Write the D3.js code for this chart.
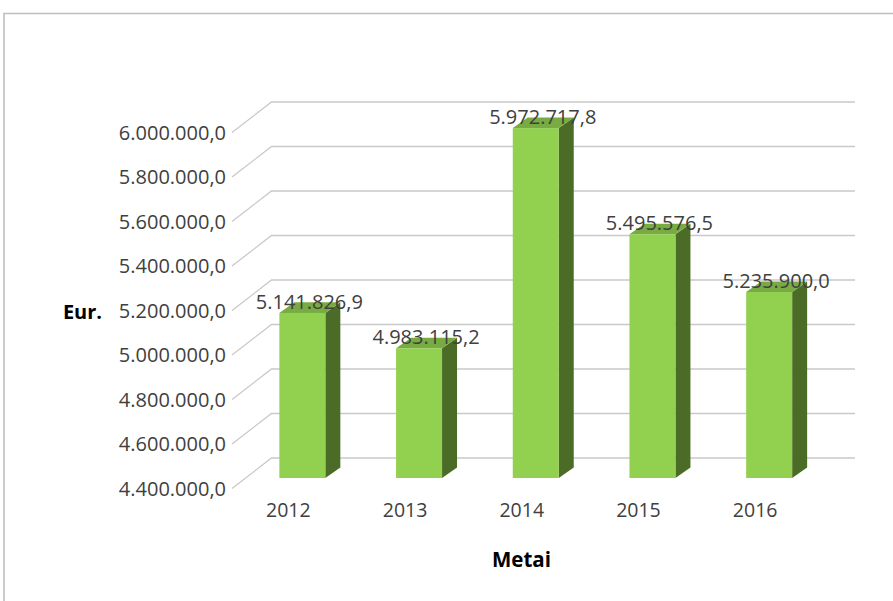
<!DOCTYPE html>
<html>
<head>
<meta charset="utf-8">
<script src="https://cdn.jsdelivr.net/npm/d3@7"></script>
<style>
  html, body { margin: 0; padding: 0; background: #ffffff; }
  svg { display: block; }
  text { font-family: "Open Sans", "Noto Sans", sans-serif; fill: #404040; }
</style>
</head>
<body>
<svg id="chart" width="893" height="601"></svg>
<script>
// Yearly totals in euros
const years = ["2012", "2013", "2014", "2015", "2016"];
const values = [5141826.9, 4983115.2, 5972717.8, 5495576.5, 5235900.0];
const yTicks = [4400000, 4600000, 4800000, 5000000, 5200000, 5400000, 5600000, 5800000, 6000000];
const yTitle = "Eur.";
const xTitle = "Metai";

const svg = d3.select("#chart");

// Lithuanian number format: dot thousands separator, comma decimal
const lt = d3.formatLocale({ decimal: ",", thousands: ".", grouping: [3], currency: ["", " €"] });
const fmt = lt.format(",.1f");

// Front edge of the floor (value scale) and category positions
const yFront = d3.scaleLinear().domain([4400000, 6000000]).range([488.5, 132.5]);
const x = d3.scaleBand().domain(years).range([232, 815.5]).paddingInner(0.606).paddingOuter(0.303);

// Oblique projection offsets
const wall = { dx: 39.5, dy: -30.5 };     // back wall
const barShift = { dx: 12, dy: -10.5 };   // bar front face relative to floor front edge
const barDepth = { dx: 15, dy: -10.6 };   // bar thickness

const numSize = 20;

// Outer frame
svg.append("path")
  .attr("d", "M4,601 L4,13.5 L893,13.5")
  .attr("fill", "none")
  .attr("stroke", "#bfbfbf")
  .attr("stroke-width", 1.6);

// Gridlines: short diagonal on the side wall, then across the back wall
svg.append("g").selectAll("path")
  .data(yTicks)
  .join("path")
  .attr("d", d => {
    const y0 = yFront(d);
    return `M232,${y0} L${232 + wall.dx},${y0 + wall.dy} L855,${y0 + wall.dy}`;
  })
  .attr("fill", "none")
  .attr("stroke", "#c9c9c9")
  .attr("stroke-width", 1.3);

// Value axis labels
svg.append("g").selectAll("text")
  .data(yTicks)
  .join("text")
  .attr("x", 226)
  .attr("y", d => yFront(d))
  .attr("dy", "0.35em")
  .attr("text-anchor", "end")
  .attr("font-size", numSize)
  .text(d => fmt(d));

// 3D bars
const base = yFront.domain()[0];
const bars = svg.append("g").selectAll("g")
  .data(years.map((k, i) => ({ year: k, value: values[i] })))
  .join("g");

function geom(d) {
  const x0 = x(d.year) + barShift.dx;
  const x1 = x0 + x.bandwidth();
  const yt = yFront(d.value) + barShift.dy;
  const yb = yFront(base) + barShift.dy;
  return { x0, x1, yt, yb };
}

// side face
bars.append("path")
  .attr("d", d => {
    const g = geom(d);
    return `M${g.x1},${g.yb} L${g.x1 + barDepth.dx},${g.yb + barDepth.dy} L${g.x1 + barDepth.dx},${g.yt + barDepth.dy} L${g.x1},${g.yt} Z`;
  })
  .attr("fill", "#4b6c27");

// top face
bars.append("path")
  .attr("d", d => {
    const g = geom(d);
    return `M${g.x0},${g.yt} L${g.x0 + barDepth.dx},${g.yt + barDepth.dy} L${g.x1 + barDepth.dx},${g.yt + barDepth.dy} L${g.x1},${g.yt} Z`;
  })
  .attr("fill", "#78ac42");

// front face
bars.append("rect")
  .attr("x", d => geom(d).x0)
  .attr("y", d => geom(d).yt)
  .attr("width", x.bandwidth())
  .attr("height", d => geom(d).yb - geom(d).yt)
  .attr("fill", "#92d050");

// Value labels above each bar
bars.append("text")
  .attr("x", d => geom(d).x0 + x.bandwidth() / 2 + 7)
  .attr("y", d => geom(d).yt - 4)
  .attr("text-anchor", "middle")
  .attr("font-size", numSize)
  .text(d => fmt(d.value));

// Category labels along the front edge
svg.append("g").selectAll("text")
  .data(years)
  .join("text")
  .attr("x", d => x(d) + x.bandwidth() / 2 - 2)
  .attr("y", yFront(base) + 21.5)
  .attr("dy", "0.35em")
  .attr("text-anchor", "middle")
  .attr("font-size", 19.5)
  .text(d => d);

// Axis titles
svg.append("text")
  .attr("x", 82.5)
  .attr("y", 312)
  .attr("dy", "0.35em")
  .attr("text-anchor", "middle")
  .attr("font-size", 20)
  .attr("font-weight", "bold")
  .style("fill", "#000")
  .text(yTitle);

svg.append("text")
  .attr("x", 521.5)
  .attr("y", 560)
  .attr("dy", "0.35em")
  .attr("text-anchor", "middle")
  .attr("font-size", 20.5)
  .attr("font-weight", "bold")
  .style("fill", "#000")
  .text(xTitle);
</script>
</body>
</html>
